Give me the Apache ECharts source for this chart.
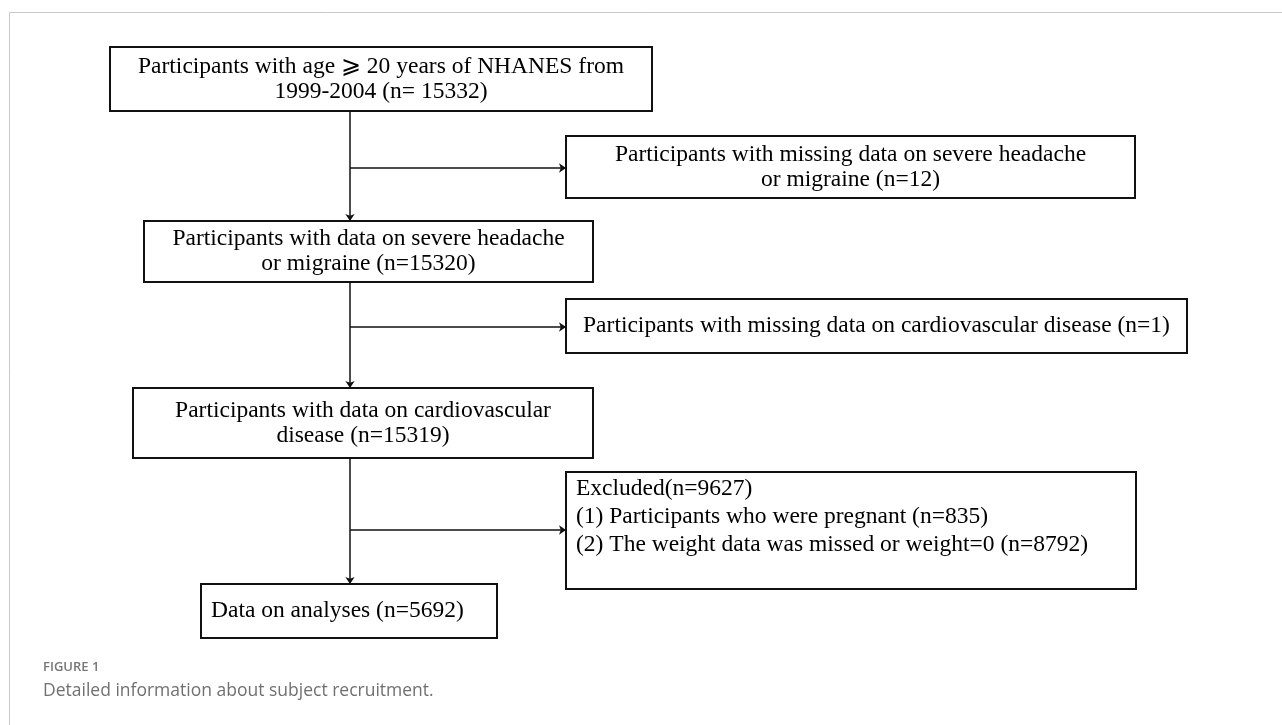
<!DOCTYPE html>
<html>
<head>
<meta charset="utf-8">
<script src="https://cdn.jsdelivr.net/npm/echarts@6/dist/echarts.min.js"></script>
<style>
  html, body { margin: 0; padding: 0; background: #fff; }
  #chart { width: 1282px; height: 725px; }
</style>
</head>
<body>
<div id="chart"></div>
<script>
// counts in the flow
const stepCounts = [15332, 15320, 15319, 5692];
const dropCounts = [12, 1, 9627];
const excludedParts = [835, 8792];

// texts of the boxes
const stepTexts = [
  'Participants with age \u2A7E 20 years of NHANES from\n1999-2004 (n= ' + stepCounts[0] + ')',
  'Participants with data on severe headache\nor migraine (n=' + stepCounts[1] + ')',
  'Participants with data on cardiovascular\ndisease (n=' + stepCounts[2] + ')',
  'Data on analyses (n=' + stepCounts[3] + ')'
];
const dropTexts = [
  'Participants with missing data on severe headache\nor migraine (n=' + dropCounts[0] + ')',
  'Participants with missing data on cardiovascular disease (n=' + dropCounts[1] + ')',
  'Excluded(n=' + dropCounts[2] + ')\n(1) Participants who were pregnant (n=' + excludedParts[0] + ')\n(2) The weight data was missed or weight=0 (n=' + excludedParts[1] + ')'
];

// layout (x0, y0, x1, y1) in the page units of the hidden axes
const stepBoxes = [[110, 47, 652, 111], [144, 221, 593, 282], [133, 388, 593, 458], [201, 584, 497, 638]];
const dropBoxes = [[566, 136, 1135, 198], [566, 299, 1187, 353], [566, 472, 1136, 589]];
const trunkX = 350;
const branchY = [168, 327, 530];

let chart = echarts.init(document.getElementById('chart'), null, { renderer: 'canvas' });

const FONT = '23.5px "Liberation Serif", "Times New Roman", "DejaVu Serif", serif';

let boxData = [];
stepBoxes.forEach(function (b, i) { boxData.push([b[0], b[1], b[2], b[3], 0, i]); });
dropBoxes.forEach(function (b, i) { boxData.push([b[0], b[1], b[2], b[3], 1, i]); });

function renderBox(params, api) {
  let p0 = api.coord([api.value(0), api.value(1)]);
  let p1 = api.coord([api.value(2), api.value(3)]);
  let kind = api.value(4), idx = api.value(5);
  let text = kind === 0 ? stepTexts[idx] : dropTexts[idx];
  let w = p1[0] - p0[0], h = p1[1] - p0[1];
  let st;
  if (kind === 1 && idx === 2) {
    // the excluded box: text at top left
    st = { text: text, x: p0[0] + 10, y: p0[1] + 3, align: 'left', verticalAlign: 'top', lineHeight: 28 };
  } else if (kind === 0 && idx === 3) {
    // last box: text sits a bit to the left
    st = { text: text, x: p0[0] + 10, y: p0[1] + h / 2, align: 'left', verticalAlign: 'middle', lineHeight: 25 };
  } else {
    st = { text: text, x: p0[0] + w / 2, y: p0[1] + h / 2, align: 'center', verticalAlign: 'middle', lineHeight: 25 };
  }
  st.font = FONT;
  st.fill = '#000';
  return {
    type: 'group',
    children: [
      {
        type: 'rect',
        shape: { x: p0[0], y: p0[1], width: w, height: h },
        style: { fill: '#fff', stroke: '#111', lineWidth: 2 }
      },
      { type: 'text', style: st }
    ]
  };
}

// connectors
let arrows = [];
for (let i = 0; i < stepBoxes.length - 1; i++) {
  arrows.push({ coords: [[trunkX, stepBoxes[i][3]], [trunkX, stepBoxes[i + 1][1]]] });
}
branchY.forEach(function (y, i) {
  arrows.push({ coords: [[trunkX, y], [dropBoxes[i][0], y]] });
});

let option = {
  backgroundColor: '#fff',
  animation: false,
  grid: { left: 0, right: 0, top: 0, bottom: 0 },
  xAxis: { type: 'value', min: 0, max: 1282, show: false },
  yAxis: { type: 'value', min: 0, max: 725, inverse: true, show: false },
  graphic: [
    { type: 'line', shape: { x1: 9.5, y1: 12.5, x2: 1282, y2: 12.5 }, style: { stroke: '#c8c8c8', lineWidth: 1 } },
    { type: 'line', shape: { x1: 9.5, y1: 12.5, x2: 9.5, y2: 725 }, style: { stroke: '#c8c8c8', lineWidth: 1 } },
    { type: 'text', left: 43, top: 661, style: { text: 'FIGURE 1', font: '600 13px "Open Sans", "Noto Sans", sans-serif', fill: '#777' } },
    { type: 'text', left: 43, top: 682, style: { text: 'Detailed information about subject recruitment.', font: '17.5px "Open Sans", "Noto Sans", sans-serif', fill: '#707070' } }
  ],
  series: [
    {
      type: 'lines',
      coordinateSystem: 'cartesian2d',
      symbol: ['none', 'arrow'],
      symbolSize: 7,
      lineStyle: { color: '#111', width: 1.5, opacity: 1 },
      silent: true,
      z: 3,
      data: arrows
    },
    {
      type: 'custom',
      coordinateSystem: 'cartesian2d',
      renderItem: renderBox,
      silent: true,
      z: 2,
      data: boxData
    }
  ]
};

chart.setOption(option);
</script>
</body>
</html>
